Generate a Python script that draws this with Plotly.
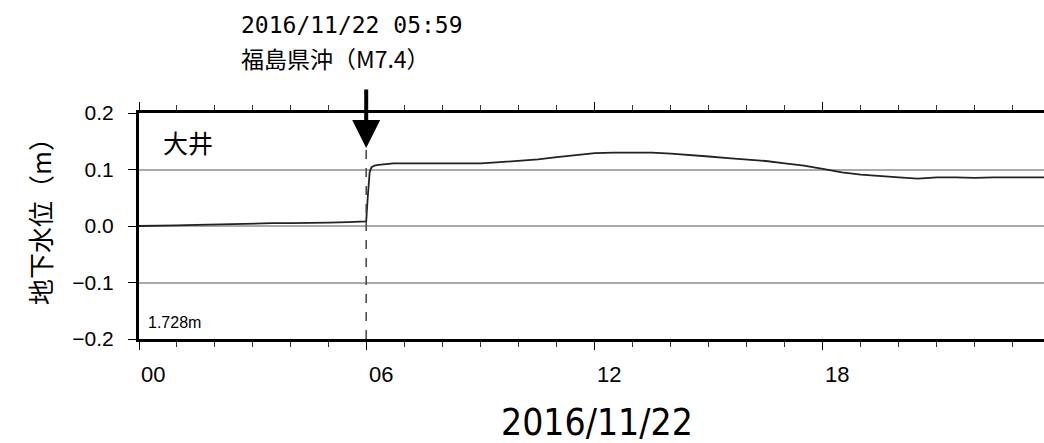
import plotly.graph_objects as go

# hours after 2016/11/22 00:00
hours = [0, 0.5, 1, 1.5, 2, 2.5, 3, 3.5, 4, 4.5, 5, 5.5, 5.95, 5.98, 6.02, 6.07, 6.12,
         6.2, 6.3, 6.5, 6.7, 7, 7.5, 8, 8.5, 9, 9.5, 10, 10.5, 11, 11.5, 12, 12.5,
         13, 13.5, 14, 14.5, 15, 15.5, 16, 16.5, 17, 17.5, 18, 18.5, 19, 19.5, 20,
         20.5, 21, 21.5, 22, 22.5, 23, 23.5, 24]
level = [0.000, 0.000, 0.001, 0.002, 0.003, 0.004, 0.004, 0.005, 0.005, 0.005, 0.006,
         0.007, 0.007, 0.008, 0.050, 0.095, 0.104, 0.107, 0.108, 0.109, 0.111, 0.111,
         0.111, 0.110, 0.110, 0.111, 0.113, 0.115, 0.118, 0.122, 0.126, 0.129, 0.130,
         0.130, 0.130, 0.128, 0.126, 0.123, 0.120, 0.118, 0.115, 0.111, 0.107, 0.101,
         0.095, 0.091, 0.088, 0.086, 0.084, 0.086, 0.086, 0.085, 0.086, 0.086, 0.086,
         0.086]

tick_vals = [0, 6, 12, 18]
tick_text = ["00", "06", "12", "18"]
quake_hour = 5.98
station = "大井"
base_level = "1.728m"
quake_time = "2016/11/22 05:59"
quake_name = "福島県沖（M7.4）"
date_label = "2016/11/22"
y_title = "地下水位（m）"

jp = "Noto Sans CJK JP"
sans = "Liberation Sans, Arial, sans-serif"

fig = go.Figure()
fig.add_trace(go.Scatter(x=hours, y=level, mode="lines",
                         line=dict(color="#222222", width=1.8), showlegend=False))

fig.add_shape(type="line", x0=quake_hour, x1=quake_hour, y0=-0.2, y1=0.138,
              xref="x", yref="y", line=dict(color="#444444", width=1.5, dash="dash"))

fig.update_layout(
    width=1044, height=443,
    margin=dict(l=139, r=0, t=113, b=104, autoexpand=False),
    paper_bgcolor="white", plot_bgcolor="white",
    xaxis=dict(range=[0, 23.82], tickvals=tick_vals, ticktext=tick_text,
               showline=True, linewidth=3, linecolor="black", mirror="ticks",
               ticks="outside", ticklen=8, tickwidth=1.2, tickcolor="black",
               ticklabelposition="outside right", ticklabelstandoff=14,
               tickfont=dict(family=sans, size=22, color="black"),
               showgrid=False, zeroline=False, automargin=False,
               minor=dict(dtick=1, ticks="outside", ticklen=5, tickwidth=1, tickcolor="#333")),
    yaxis=dict(range=[-0.2, 0.2], tickvals=[-0.2, -0.1, 0.0, 0.1, 0.2],
               tickformat=".1f",
               showline=True, linewidth=3, linecolor="black", mirror=False,
               ticks="outside", ticklen=8, tickwidth=1.2, tickcolor="black",
               ticklabelstandoff=10, automargin=False,
               tickfont=dict(family=sans, size=21, color="black"),
               showgrid=True, gridcolor="#aaaaaa", gridwidth=1.5, zeroline=False),
)

fig.add_annotation(x=quake_hour, y=0.138, xref="x", yref="y", ax=0, ay=-60,
                   showarrow=True, arrowhead=2, arrowsize=1.4, arrowwidth=4,
                   arrowcolor="black", text="")

fig.add_annotation(x=0, y=1.39, xref="paper", yref="paper", xshift=100,
                   xanchor="left", yanchor="middle", showarrow=False,
                   text=quake_time,
                   font=dict(family="DejaVu Sans Mono", size=23, color="black"))
fig.add_annotation(x=0, y=1.245, xref="paper", yref="paper", xshift=100,
                   xanchor="left", yanchor="middle", showarrow=False,
                   text=quake_name,
                   font=dict(family=jp, size=23, color="black"))

fig.add_annotation(x=0, y=0.87, xref="paper", yref="paper", xshift=22,
                   xanchor="left", yanchor="middle", showarrow=False,
                   text=station, font=dict(family=jp, size=25, color="black"))
fig.add_annotation(x=0, y=0.075, xref="paper", yref="paper", xshift=7,
                   xanchor="left", yanchor="middle", showarrow=False,
                   text=base_level, font=dict(family=sans, size=16, color="black"))

fig.add_annotation(x=0.5, y=0, xref="paper", yref="paper", yshift=-83, xshift=5,
                   xanchor="center", yanchor="middle", showarrow=False,
                   text=date_label,
                   font=dict(family="Liberation Sans Narrow, DejaVu Sans Condensed, sans-serif",
                             size=37, color="black"))
fig.add_annotation(x=0, y=0.5, xref="paper", yref="paper", xshift=-100, yshift=11,
                   xanchor="center", yanchor="middle", showarrow=False, textangle=-90,
                   text=y_title, font=dict(family=jp, size=26, color="black"))

fig.write_html("out.html", config={"displayModeBar": False},
               post_script="document.body.style.margin='0';document.body.style.padding='0';")
